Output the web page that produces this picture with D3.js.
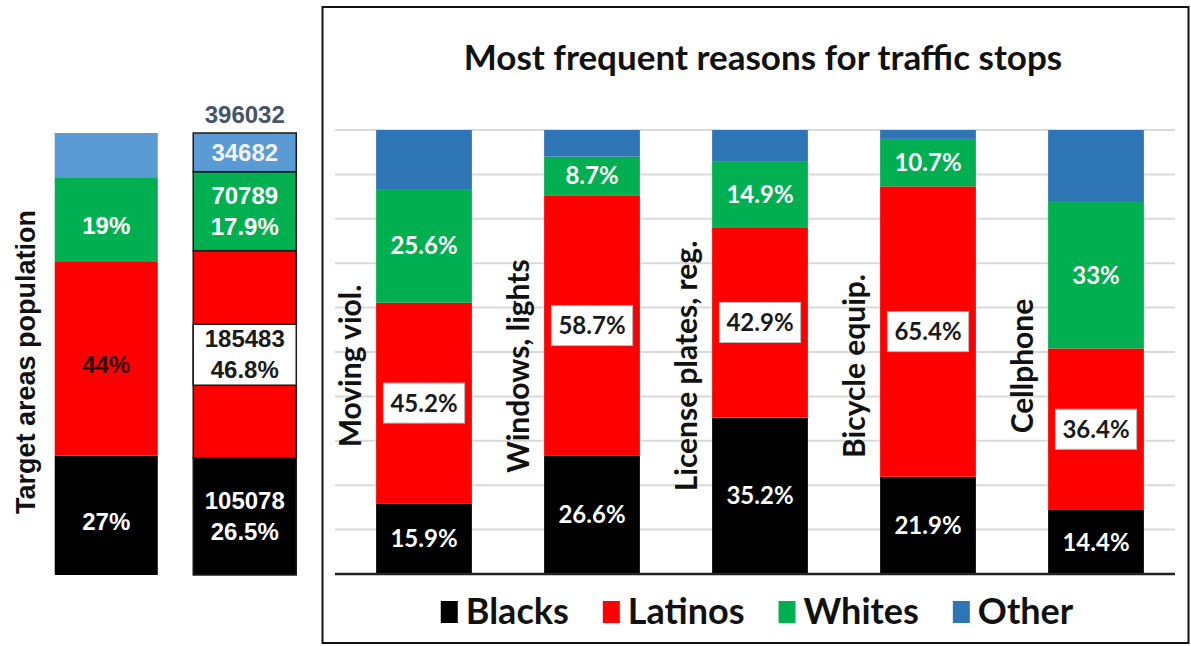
<!DOCTYPE html>
<html>
<head>
<meta charset="utf-8">
<script src="https://cdn.jsdelivr.net/npm/d3@7/dist/d3.min.js"></script>
<style>
  html, body { margin: 0; padding: 0; background: #fff; }
  svg { display: block; }
</style>
</head>
<body>
<svg id="chart" width="1191" height="646"></svg>
<script>
// ---------------- DATA ----------------
const groups = ["Blacks", "Latinos", "Whites", "Other"];
// Left panel: target areas population
const popPct = [27, 44, 19, 10];
const popCounts = [105078, 185483, 70789, 34682];
// Right panel: most frequent reasons for traffic stops
const reasons = ["Moving viol.", "Windows, lights", "License plates, reg.", "Bicycle equip.", "Cellphone"];
const blacks  = [15.9, 26.6, 35.2, 21.9, 14.4];
const latinos = [45.2, 58.7, 42.9, 65.4, 36.4];
const whites  = [25.6, 8.7, 14.9, 10.7, 33];
const other   = [13.3, 6.0, 7.0, 2.0, 16.2];
const gridTicks = [0, 10, 20, 30, 40, 50, 60, 70, 80, 90, 100];
const titleText = "Most frequent reasons for traffic stops";
const leftAxisLabel = "Target areas population";

// ---------------- STYLE ----------------
const colRight = { Blacks: "#000000", Latinos: "#ff0000", Whites: "#00b050", Other: "#2e75b6" };
const colLeft  = { Blacks: "#000000", Latinos: "#ff0000", Whites: "#00b050", Other: "#5b9bd5" };
const fontR = "Lato, 'Open Sans', sans-serif";
const fontL = "'Liberation Sans', Arial, sans-serif";

const svg = d3.select("#chart");

// ================= LEFT PANEL =================
const yL = d3.scaleLinear().domain([0, 100]).range([575, 133]);
const xL = d3.scaleBand().domain(["pct", "count"]).range([37, 314]).paddingInner(0.256).paddingOuter(0.128);

const total = d3.sum(popCounts);
const countPct = popCounts.map(c => c / total * 100);

function stackRows(vals) {
  const row = {};
  groups.forEach((g, i) => row[g] = vals[i]);
  return row;
}
const leftRows = [Object.assign({ key: "pct" }, stackRows(popPct)),
                  Object.assign({ key: "count" }, stackRows(countPct))];
const leftStack = d3.stack().keys(groups)(leftRows);

const gL = svg.append("g");
leftStack.forEach(layer => {
  layer.forEach(d => {
    const isCount = d.data.key === "count";
    gL.append("rect")
      .attr("x", xL(d.data.key))
      .attr("width", xL.bandwidth())
      .attr("y", yL(d[1]))
      .attr("height", yL(d[0]) - yL(d[1]))
      .attr("fill", colLeft[layer.key])
      .attr("stroke", isCount ? "#1a1a1a" : "none")
      .attr("stroke-width", isCount ? 1.5 : 0);
  });
});

const LFS = 24;
// left bar 1 labels
const pctLabelColor = { Blacks: "#ffffff", Latinos: "#2a0a0a", Whites: "#ffffff" };
leftStack.forEach((layer, gi) => {
  const d = layer[0];
  if (layer.key === "Other") return;
  gL.append("text")
    .attr("x", xL("pct") + xL.bandwidth() / 2)
    .attr("y", (yL(d[0]) + yL(d[1])) / 2 + 15)
    .attr("text-anchor", "middle")
    .attr("font-family", fontL).attr("font-weight", "bold").attr("font-size", LFS)
    .attr("fill", pctLabelColor[layer.key])
    .text(popPct[gi] + "%");
});

// left bar 2 labels
leftStack.forEach((layer, gi) => {
  const d = layer[1];
  const cx = xL("count") + xL.bandwidth() / 2;
  const cy = (yL(d[0]) + yL(d[1])) / 2;
  const lines = layer.key === "Other" ? [String(popCounts[gi])]
              : [String(popCounts[gi]), countPct[gi].toFixed(1) + "%"];
  const isLat = layer.key === "Latinos";
  if (isLat) {
    gL.append("rect")
      .attr("x", xL("count")).attr("width", xL.bandwidth())
      .attr("y", cy - 30).attr("height", 61)
      .attr("fill", "#fff").attr("stroke", "#1a1a1a").attr("stroke-width", 1.5);
  }
  const color = isLat ? "#1a1a1a" : (layer.key === "Other" ? "#f2f2f2" : "#ffffff");
  lines.forEach((ln, li) => {
    gL.append("text")
      .attr("x", cx)
      .attr("y", cy + 8.5 + (li - (lines.length - 1) / 2) * 31)
      .attr("text-anchor", "middle")
      .attr("font-family", fontL).attr("font-weight", "bold").attr("font-size", LFS)
      .attr("fill", color)
      .text(ln);
  });
});

// total above bar 2
gL.append("text")
  .attr("x", xL("count") + xL.bandwidth() / 2)
  .attr("y", yL(100) - 10)
  .attr("text-anchor", "middle")
  .attr("font-family", fontL).attr("font-weight", "bold").attr("font-size", LFS)
  .attr("fill", "#44546a")
  .text(total);

// left axis label
gL.append("text")
  .attr("transform", `translate(35, ${(yL(0) + yL(100)) / 2 + 8}) rotate(-90)`)
  .attr("text-anchor", "middle")
  .attr("font-family", fontL).attr("font-weight", "bold").attr("font-size", 27)
  .attr("fill", "#111")
  .text(leftAxisLabel);

// ================= RIGHT PANEL =================
svg.append("rect")
  .attr("x", 322.5).attr("y", 7).attr("width", 866).attr("height", 636)
  .attr("fill", "none").attr("stroke", "#111").attr("stroke-width", 2);

const yR = d3.scaleLinear().domain([0, 100]).range([574, 130]);
const xR = d3.scaleBand().domain(reasons).range([340, 1180]).paddingInner(0.43).paddingOuter(0.215);

const gR = svg.append("g");

// title
gR.append("text")
  .attr("x", 763).attr("y", 70)
  .attr("text-anchor", "middle")
  .attr("font-family", fontR).attr("font-weight", "bold").attr("font-size", 35)
  .attr("fill", "#111")
  .text(titleText);

// gridlines
gR.selectAll("line.grid").data(gridTicks.filter(t => t > 0)).enter().append("line")
  .attr("class", "grid")
  .attr("x1", 335).attr("x2", 1175)
  .attr("y1", d => yR(d)).attr("y2", d => yR(d))
  .attr("stroke", "#d9d9d9").attr("stroke-width", 2);

const rightRows = reasons.map((r, i) => ({ key: r, Blacks: blacks[i], Latinos: latinos[i], Whites: whites[i], Other: other[i] }));
const rightStack = d3.stack().keys(groups)(rightRows);

rightStack.forEach(layer => {
  gR.selectAll(null).data(layer).enter().append("rect")
    .attr("x", d => xR(d.data.key))
    .attr("width", xR.bandwidth())
    .attr("y", d => yR(d[1]))
    .attr("height", d => yR(d[0]) - yR(d[1]))
    .attr("fill", colRight[layer.key]);
});

// axis line
gR.append("line")
  .attr("x1", 335).attr("x2", 1175)
  .attr("y1", yR(0)).attr("y2", yR(0))
  .attr("stroke", "#222").attr("stroke-width", 2.5);

// value labels
const VFS = 24;
rightStack.forEach(layer => {
  if (layer.key === "Other") return;
  layer.forEach(d => {
    const cx = xR(d.data.key) + xR.bandwidth() / 2;
    const cy = (yR(d[0]) + yR(d[1])) / 2;
    const txt = (d[1] - d[0]).toFixed(1).replace(/\.0$/, "") + "%";
    if (layer.key === "Latinos") {
      const t = gR.append("text")
        .attr("x", cx).attr("y", cy + 8.5)
        .attr("text-anchor", "middle")
        .attr("font-family", fontR).attr("font-weight", "bold").attr("font-size", VFS)
        .attr("fill", "#1a1a1a")
        .text(txt);
      const w = t.node().getComputedTextLength();
      gR.insert("rect", function () { return t.node(); })
        .attr("x", cx - w / 2 - 7).attr("width", w + 14)
        .attr("y", cy - 20).attr("height", 40)
        .attr("fill", "#fff").attr("stroke", "#bbb").attr("stroke-width", 1);
    } else {
      gR.append("text")
        .attr("x", cx).attr("y", cy + 8.5)
        .attr("text-anchor", "middle")
        .attr("font-family", fontR).attr("font-weight", "bold").attr("font-size", VFS)
        .attr("fill", "#ffffff")
        .text(txt);
    }
  });
});

// category labels (rotated, left of each bar)
gR.selectAll("text.cat").data(reasons).enter().append("text")
  .attr("class", "cat")
  .attr("transform", d => `translate(${xR(d) - 15}, 366) rotate(-90)`)
  .attr("text-anchor", "middle")
  .attr("font-family", fontR).attr("font-weight", "bold").attr("font-size", 30)
  .attr("fill", "#111")
  .text(d => d);

// legend
const legend = gR.append("g");
let lx = 0;
const gap = 34;
groups.forEach(g => {
  const item = legend.append("g").attr("transform", `translate(${lx},0)`);
  item.append("rect").attr("x", 0).attr("y", -23).attr("width", 17).attr("height", 22).attr("fill", colRight[g]);
  const t = item.append("text").attr("x", 25).attr("y", 0)
    .attr("font-family", fontR).attr("font-weight", "bold").attr("font-size", 36)
    .attr("fill", "#111").text(g);
  lx += 25 + t.node().getComputedTextLength() + gap;
});
const legW = lx - gap;
legend.attr("transform", `translate(${757 - legW / 2}, 624)`);
</script>
</body>
</html>
